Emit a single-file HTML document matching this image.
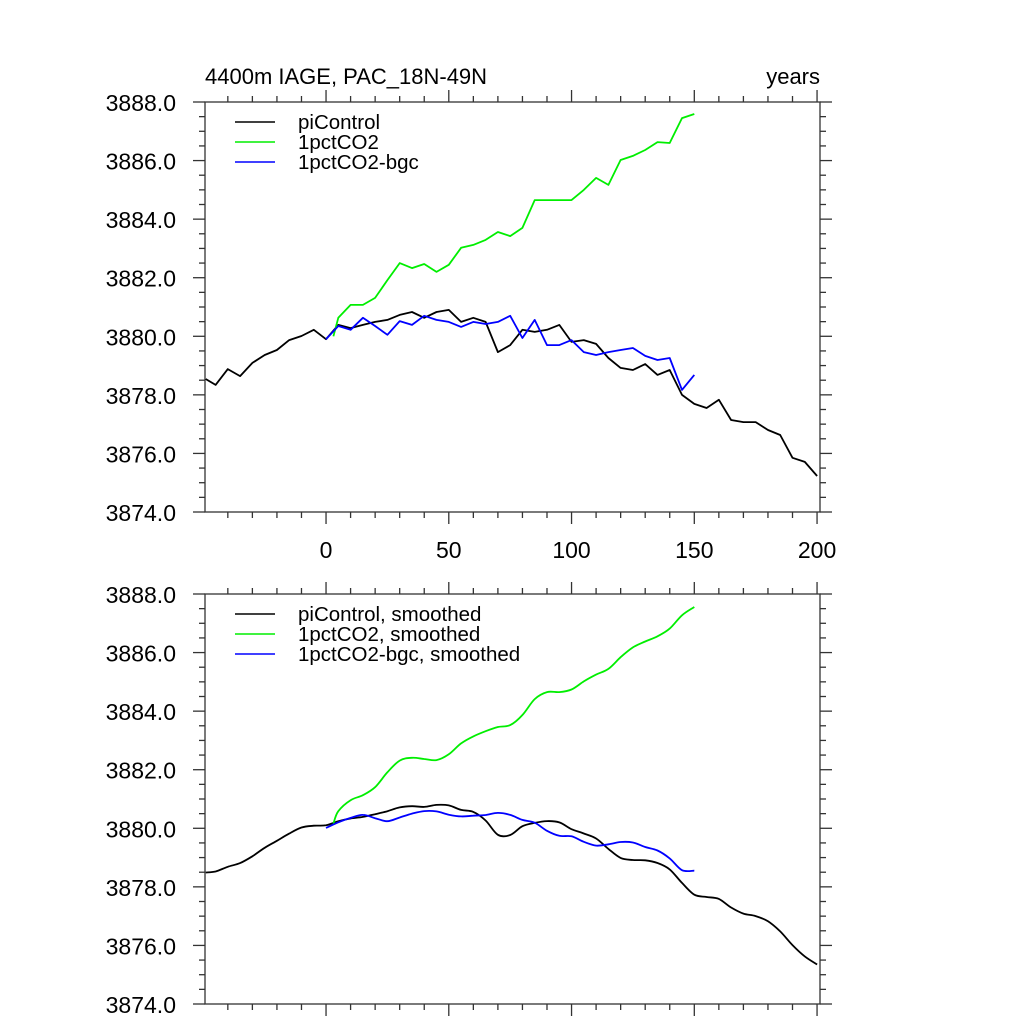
<!DOCTYPE html>
<html><head><meta charset="utf-8"><style>
body{margin:0;background:#fff;}
svg{display:block;font-family:"Liberation Sans",sans-serif;}
</style></head><body>
<svg id="chart" width="1024" height="1024"></svg>
<script>
const piYears = [-49,-45,-40,-35,-30,-25,-20,-15,-10,-5,0,5,10,15,20,25,30,35,40,45,50,55,60,65,70,75,80,85,90,95,100,105,110,115,120,125,130,135,140,145,150,155,160,165,170,175,180,185,190,195,200];
const piValues = [3878.54,3878.34,3878.88,3878.64,3879.09,3879.36,3879.53,3879.87,3880.01,3880.22,3879.9,3880.39,3880.28,3880.39,3880.49,3880.56,3880.73,3880.83,3880.63,3880.83,3880.90,3880.49,3880.63,3880.49,3879.46,3879.70,3880.22,3880.15,3880.22,3880.39,3879.81,3879.87,3879.74,3879.26,3878.92,3878.85,3879.05,3878.68,3878.85,3878.0,3877.69,3877.55,3877.83,3877.14,3877.07,3877.07,3876.8,3876.63,3875.85,3875.71,3875.23];
const co2Years = [3,5,10,15,20,25,30,35,40,45,50,55,60,65,70,75,80,85,90,95,100,105,110,115,120,125,130,135,140,145,150];
const co2Values = [3880.0,3880.63,3881.07,3881.07,3881.31,3881.92,3882.5,3882.33,3882.47,3882.2,3882.44,3883.02,3883.12,3883.29,3883.56,3883.42,3883.70,3884.65,3884.65,3884.65,3884.65,3885.0,3885.41,3885.17,3886.02,3886.16,3886.36,3886.63,3886.6,3887.45,3887.59];
const bgcYears = [0,5,10,15,20,25,30,35,40,45,50,55,60,65,70,75,80,85,90,95,100,105,110,115,120,125,130,135,140,145,150];
const bgcValues = [3879.9,3880.35,3880.22,3880.63,3880.35,3880.05,3880.52,3880.39,3880.7,3880.56,3880.49,3880.32,3880.49,3880.42,3880.49,3880.7,3879.94,3880.56,3879.7,3879.7,3879.87,3879.46,3879.36,3879.46,3879.53,3879.6,3879.33,3879.19,3879.26,3878.17,3878.68];
const yTicks = [3874,3876,3878,3880,3882,3884,3886,3888];
const xTicks = [0,50,100,150,200];

const NS="http://www.w3.org/2000/svg";
const svg=document.getElementById('chart');
const X0=205,X1=820,XMIN=-49.3,XMAX=201.2;
const YMIN=3874,YMAX=3888;
function sx(v){return X0+(v-XMIN)/(XMAX-XMIN)*(X1-X0);}
function mk(tag,attrs,parent){const e=document.createElementNS(NS,tag);for(const k in attrs)e.setAttribute(k,attrs[k]);(parent||svg).appendChild(e);return e;}

function smooth(vals){return vals.map((v,i)=>{const a=vals[Math.max(0,i-1)],c=vals[Math.min(vals.length-1,i+1)];return (a+2*v+c)/4;});}
function linePath(xs,ys,sy,curve){
  const p=xs.map((x,i)=>[sx(x),sy(ys[i])]);
  if(!curve)return 'M'+p.map(q=>q[0].toFixed(1)+','+q[1].toFixed(1)).join('L');
  let d='M'+p[0][0].toFixed(1)+','+p[0][1].toFixed(1);
  for(let i=0;i<p.length-1;i++){const p0=p[Math.max(0,i-1)],p1=p[i],p2=p[i+1],p3=p[Math.min(p.length-1,i+2)];
    d+='C'+(p1[0]+(p2[0]-p0[0])/6).toFixed(1)+','+(p1[1]+(p2[1]-p0[1])/6).toFixed(1)+' '+(p2[0]-(p3[0]-p1[0])/6).toFixed(1)+','+(p2[1]-(p3[1]-p1[1])/6).toFixed(1)+' '+p2[0].toFixed(1)+','+p2[1].toFixed(1);}
  return d;}

function panel(top,name,smoothed,showXLabels,legendNames){
  const Y0=top,Y1=top+410;
  const sy=v=>Y1-(v-YMIN)/(YMAX-YMIN)*(Y1-Y0);
  const g=mk('g',{});
  
  
  const ax=mk('g',{stroke:'#333','stroke-width':1.3},g);
  
  
  mk('rect',{x:X0,y:Y0,width:X1-X0,height:Y1-Y0,fill:'none'},ax);
  for(let v=YMIN;v<=YMAX+0.01;v+=0.5){const y=sy(v);const major=Math.abs(v-Math.round(v/2)*2)<0.01;const L=major?12:6;
    mk('line',{x1:X0-L,y1:y,x2:X0,y2:y},ax);mk('line',{x1:X1,y1:y,x2:X1+L,y2:y},ax);}
  for(let v=-40;v<=200;v+=10){const x=sx(v);const major=v%50===0;const L=major?12:6;
    mk('line',{x1:x,y1:Y0-L,x2:x,y2:Y0},ax);mk('line',{x1:x,y1:Y1,x2:x,y2:Y1+L},ax);}
  yTicks.forEach(v=>{const t=mk('text',{x:176,y:sy(v)+9,'text-anchor':'end','font-size':23},g);t.textContent=v.toFixed(1);
    
    });
  if(showXLabels)xTicks.forEach(v=>{const t=mk('text',{x:sx(v),y:Y1+46,'text-anchor':'middle','font-size':23},g);t.textContent=v;
    
    });
  const series=[[piYears,piValues,'#000'],[co2Years,co2Values,'#00ee00'],[bgcYears,bgcValues,'#0000ff']];
  series.forEach((s,i)=>{const ys=smoothed?smooth(s[1]):s[1];
    const p=mk('path',{d:linePath(s[0],ys,sy,smoothed),fill:'none',stroke:s[2],'stroke-width':1.8,'stroke-linejoin':'round'},g);
    
    
    const ly=Y0+20+i*20;
    const lg=mk('g',{},g);
    
    
    mk('line',{x1:235,y1:ly,x2:275,y2:ly,stroke:s[2],'stroke-width':1.5},lg);
    const t=mk('text',{x:298,y:ly+7,'font-size':20.5},lg);t.textContent=legendNames[i];});
}
const title=mk('text',{x:205,y:84,'font-size':22});title.textContent='4400m IAGE, PAC_18N-49N';


const yr=mk('text',{x:820,y:84,'font-size':22,'text-anchor':'end'});yr.textContent='years';


panel(102,'top-panel',false,true,['piControl','1pctCO2','1pctCO2-bgc']);
panel(594,'bottom-panel',true,false,['piControl, smoothed','1pctCO2, smoothed','1pctCO2-bgc, smoothed']);
</script>
</body></html>
